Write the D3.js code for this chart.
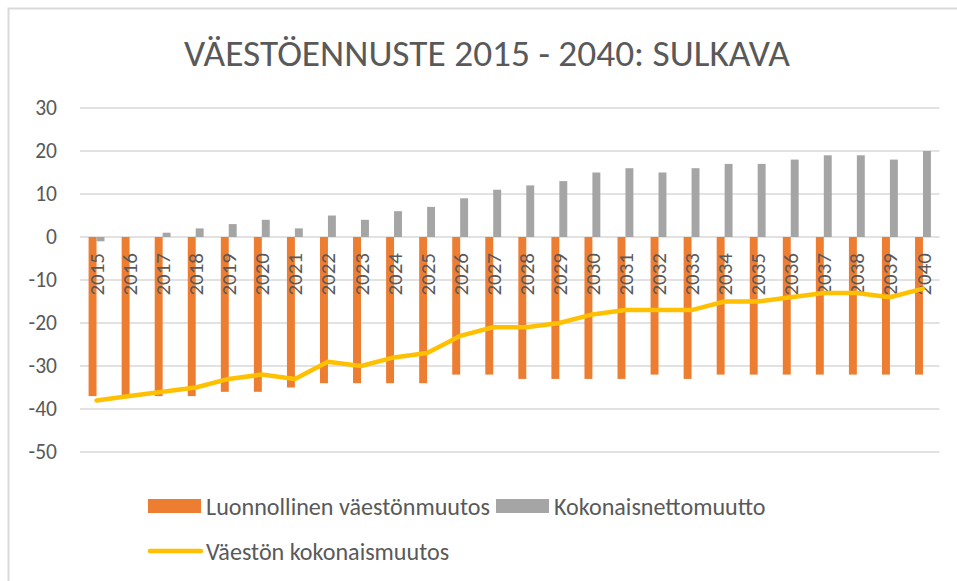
<!DOCTYPE html>
<html lang="fi">
<head>
<meta charset="utf-8">
<script src="https://cdn.jsdelivr.net/npm/d3@7"></script>
<style>
  html, body { margin: 0; padding: 0; background: #ffffff; }
  svg { display: block; }
  text { font-family: Carlito, Lato, "Open Sans", sans-serif; fill: #595959; }
</style>
</head>
<body>
<svg id="chart" width="957" height="581"></svg>
<script>
// Vuodet
const years = d3.range(2015, 2041).map(String);

// Luonnollinen väestönmuutos (syntyneet - kuolleet)
const naturalChange = [-37, -37, -37, -37, -36, -36, -35, -34, -34, -34, -34, -32, -32,
                       -33, -33, -33, -33, -32, -33, -32, -32, -32, -32, -32, -32, -32];

// Kokonaisnettomuutto
const netMigration = [-1, 0, 1, 2, 3, 4, 2, 5, 4, 6, 7, 9, 11,
                      12, 13, 15, 16, 15, 16, 17, 17, 18, 19, 19, 18, 20];

// Väestön kokonaismuutos
const totalChange = [-38, -37, -36, -35, -33, -32, -33, -29, -30, -28, -27, -23, -21,
                     -21, -20, -18, -17, -17, -17, -15, -15, -14, -13, -13, -14, -12];

const yTicks = [30, 20, 10, 0, -10, -20, -30, -40, -50];

const seriesNames = ["Luonnollinen väestönmuutos", "Kokonaisnettomuutto", "Väestön kokonaismuutos"];
const seriesColors = ["#ed7d31", "#a5a5a5", "#ffc000"];
const chartTitle = "VÄESTÖENNUSTE 2015 - 2040: SULKAVA";

const FONT = "Carlito, Lato, 'Open Sans', sans-serif";
const svg = d3.select("#chart");

// Kaavion kehys (vasen ja yläreuna)
svg.append("path")
  .attr("d", "M8.5,581 L8.5,8.5 L957,8.5")
  .attr("fill", "none")
  .attr("stroke", "#d9d9d9")
  .attr("stroke-width", 2);

// Tekstin fonttikoko sovitetaan annettuun leveyteen
function fitText(sel, base, width) {
  sel.style("font-size", base + "px");
  const w = sel.node().getComputedTextLength();
  const size = base * width / w;
  sel.style("font-size", size.toFixed(2) + "px");
  return size;
}

// Otsikko
const title = svg.append("text")
  .attr("x", 487)
  .attr("y", 66)
  .attr("text-anchor", "middle")
  .text(chartTitle);
fitText(title, 36, 606);

const plot = { left: 80, right: 939.5, top: 108, bottom: 452 };

const x = d3.scaleBand()
  .domain(years)
  .range([plot.left, plot.right])
  .paddingInner(0.52)
  .paddingOuter(0.26);

const x1 = d3.scaleBand()
  .domain(["natural", "net"])
  .range([0, x.bandwidth()]);

const y = d3.scaleLinear()
  .domain([-50, 30])
  .range([plot.bottom, plot.top]);

// Vaakasuorat apuviivat
svg.append("g")
  .selectAll("line")
  .data(yTicks)
  .join("line")
  .attr("x1", plot.left)
  .attr("x2", plot.right)
  .attr("y1", d => y(d))
  .attr("y2", d => y(d))
  .attr("stroke", "#d9d9d9")
  .attr("stroke-width", 1.5);

// Y-akselin luvut
const yAxis = d3.axisLeft(y).tickValues(yTicks).tickSize(0).tickPadding(0)
  .tickFormat(d => String(d));
const yAxisG = svg.append("g")
  .attr("transform", "translate(57,0)")
  .call(yAxis);
yAxisG.select(".domain").remove();
yAxisG.selectAll("text")
  .attr("fill", "#595959")
  .style("font-size", "21.5px")
  .style("font-family", FONT);

const rows = years.map((yr, i) => ({ year: yr, natural: naturalChange[i], net: netMigration[i], total: totalChange[i] }));

// Pylväät
const bars = svg.append("g");
bars.selectAll("rect.natural")
  .data(rows)
  .join("rect")
  .attr("class", "natural")
  .attr("x", d => x(d.year) + x1("natural"))
  .attr("width", x1.bandwidth())
  .attr("y", d => y(Math.max(0, d.natural)))
  .attr("height", d => Math.abs(y(d.natural) - y(0)))
  .attr("fill", seriesColors[0]);

bars.selectAll("rect.net")
  .data(rows)
  .join("rect")
  .attr("class", "net")
  .attr("x", d => x(d.year) + x1("net"))
  .attr("width", x1.bandwidth())
  .attr("y", d => y(Math.max(0, d.net)))
  .attr("height", d => Math.abs(y(d.net) - y(0)))
  .attr("fill", seriesColors[1]);

// Vuosiluvut pystyyn kaavioalueen sisälle
const xAxis = d3.axisBottom(x).tickSize(0).tickPadding(0);
const xAxisG = svg.append("g")
  .attr("transform", `translate(0,${y(0)})`)
  .call(xAxis);
xAxisG.select(".domain").remove();
xAxisG.selectAll(".tick text")
  .attr("fill", "#595959")
  .attr("text-anchor", "end")
  .attr("transform", "translate(0,16) rotate(-90)")
  .attr("x", 0)
  .attr("y", 0)
  .attr("dy", "0.36em")
  .style("font-size", "21px")
  .style("font-family", FONT);

// Kokonaismuutoksen viiva
const line = d3.line()
  .x(d => x(d.year) + x.bandwidth() / 2)
  .y(d => y(d.total));

svg.append("path")
  .datum(rows)
  .attr("d", line)
  .attr("fill", "none")
  .attr("stroke", seriesColors[2])
  .attr("stroke-width", 4.5)
  .attr("stroke-linecap", "round")
  .attr("stroke-linejoin", "round");

// Selite
const legend = svg.append("g");
const swW = 53, swGap = 5;

const row1 = legend.append("g").attr("transform", "translate(148,506)");
row1.append("rect").attr("x", 0).attr("y", -7).attr("width", swW).attr("height", 14).attr("fill", seriesColors[0]);
const t1 = row1.append("text").attr("x", swW + swGap).attr("dy", "0.36em").text(seriesNames[0]);
const legendSize = fitText(t1, 22, 284);
const t1End = swW + swGap + t1.node().getComputedTextLength();

const g2 = row1.append("g").attr("transform", `translate(${t1End + 6},0)`);
g2.append("rect").attr("x", 0).attr("y", -7).attr("width", swW).attr("height", 14).attr("fill", seriesColors[1]);
g2.append("text").attr("x", swW + swGap).attr("dy", "0.36em")
  .style("font-size", legendSize.toFixed(2) + "px").text(seriesNames[1]);

const row2 = legend.append("g").attr("transform", "translate(148,551)");
row2.append("line").attr("x1", 2).attr("x2", swW).attr("y1", 0).attr("y2", 0)
  .attr("stroke", seriesColors[2]).attr("stroke-width", 4.5).attr("stroke-linecap", "round");
row2.append("text").attr("x", swW + swGap).attr("dy", "0.36em")
  .style("font-size", legendSize.toFixed(2) + "px").text(seriesNames[2]);
</script>
</body>
</html>
